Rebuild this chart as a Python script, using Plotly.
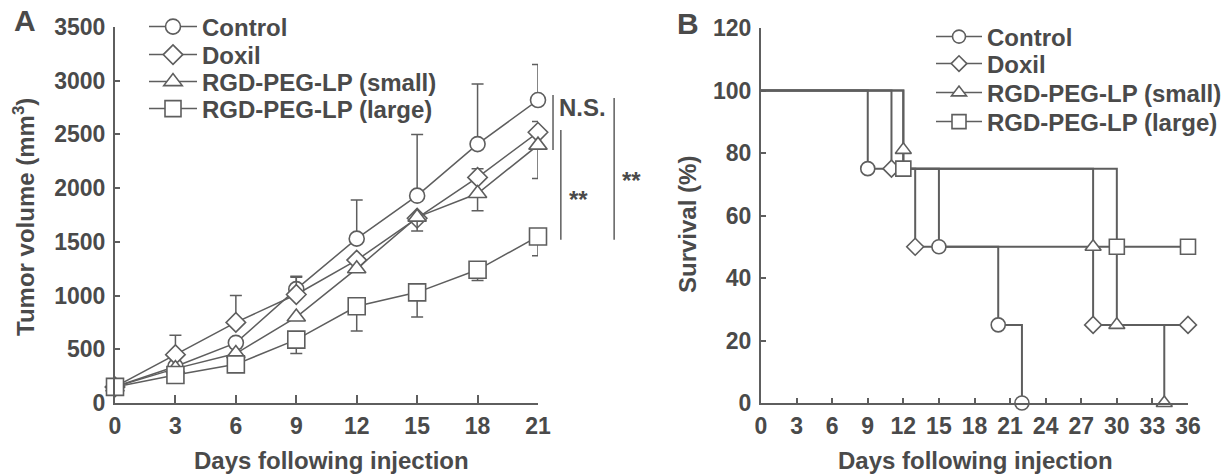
import plotly.graph_objects as go

# ---------------- data: panel A (tumor volume) ----------------
days = [0, 3, 6, 9, 12, 15, 18, 21]
control = [150, 340, 560, 1060, 1530, 1930, 2410, 2820]
control_err = [0, 0, 0, 120, 360, 570, 560, 330]
doxil = [150, 450, 750, 1010, 1330, 1720, 2100, 2520]
doxil_err = [0, 180, 250, 160, 0, 0, 80, 100]
small = [150, 320, 460, 800, 1250, 1730, 1950, 2400]
small_err = [0, 0, 0, 0, 0, 130, 160, 310]
large = [150, 260, 360, 590, 900, 1030, 1240, 1550]
large_err = [0, 0, 0, 130, 230, 230, 100, 180]
zeros = [0] * len(days)

# ---------------- data: panel B (survival) ----------------
ctrl_t = [0, 9, 15, 20, 22]
ctrl_s = [100, 75, 50, 25, 0]
dox_t = [0, 11, 13, 28, 36]
dox_s = [100, 75, 50, 25, 25]
small_t = [0, 12, 28, 30, 34]
small_s = [100, 75, 50, 25, 0]
small_mark_s = [81, 50, 25, 0]      # triangle drawn just above the square at day 12
large_t = [0, 12, 30, 36]
large_s = [100, 75, 50, 50]

names = ["Control", "Doxil", "RGD-PEG-LP (small)", "RGD-PEG-LP (large)"]
symbols = ["circle", "diamond", "triangle-up", "square"]

GRAY = "#5e5e5e"
TXT = "#4a4a4a"
FONT = "Liberation Sans, Arial, sans-serif"
W, H = 1231, 476

fig = go.Figure()

seriesA = [(control, control_err, zeros), (doxil, doxil_err, zeros),
           (small, zeros, small_err), (large, zeros, large_err)]
sizesA = [15, 15, 16, 17]
legA = ["legend", "legend2", "legend3", "legend4"]
for i, (vals, up, down) in enumerate(seriesA):
    fig.add_trace(go.Scatter(
        x=days, y=vals, mode="lines+markers", name=names[i],
        line=dict(color=GRAY, width=1.5),
        marker=dict(symbol=symbols[i], size=sizesA[i], color="white",
                    line=dict(color=GRAY, width=1.6)),
        error_y=dict(type="data", symmetric=False, array=up, arrayminus=down,
                     color=GRAY, thickness=1.5, width=6),
        cliponaxis=False, xaxis="x", yaxis="y", legend=legA[i],
    ))

survB = [(ctrl_t, ctrl_s, ctrl_s[1:]), (dox_t, dox_s, dox_s[1:]),
         (small_t, small_s, small_mark_s), (large_t, large_s, large_s[1:])]
sizesB = [14, 13, 14, 15]
for i, (t, s, ms) in enumerate(survB):
    fig.add_trace(go.Scatter(
        x=t, y=s, mode="lines", line=dict(color=GRAY, width=2, shape="hv"),
        showlegend=False, xaxis="x2", yaxis="y2", cliponaxis=False, hoverinfo="skip",
    ))
for i, (t, s, ms) in enumerate(survB):
    fig.add_trace(go.Scatter(
        x=t[1:], y=ms, mode="markers",
        marker=dict(symbol=symbols[i], size=sizesB[i], color="white",
                    line=dict(color=GRAY, width=1.6)),
        showlegend=False, xaxis="x2", yaxis="y2", cliponaxis=False,
    ))
legB = ["legend5", "legend6", "legend7", "legend8"]
for i in range(4):
    fig.add_trace(go.Scatter(
        x=[None], y=[None], mode="lines+markers", name=names[i],
        line=dict(color=GRAY, width=1.5),
        marker=dict(symbol=symbols[i], size=sizesB[i] - 1, color="white",
                    line=dict(color=GRAY, width=1.6)),
        xaxis="x2", yaxis="y2", legend=legB[i],
    ))

axis_common = dict(showline=True, linecolor=GRAY, linewidth=2, ticks="inside",
                   tickcolor=GRAY, tickwidth=1.5, showgrid=False, zeroline=False,
                   automargin=False,
                   tickfont=dict(family=FONT, size=23, color=TXT, weight="bold"))

legend_font = dict(family=FONT, size=24, color=TXT, weight="bold")
rowsA = [27, 55, 82, 109]
rowsB = [37, 64, 93, 122]
legends = {}
for i, r in enumerate(rowsA):
    legends[legA[i]] = dict(x=144 / W, y=1 - r / H, xanchor="left", yanchor="middle",
                            bgcolor="rgba(0,0,0,0)", itemwidth=48, font=legend_font)
for i, r in enumerate(rowsB):
    legends[legB[i]] = dict(x=931 / W, y=1 - r / H, xanchor="left", yanchor="middle",
                            bgcolor="rgba(0,0,0,0)", itemwidth=46, font=legend_font)

fig.update_layout(
    width=W, height=H, margin=dict(l=0, r=0, t=0, b=0, autoexpand=False),
    paper_bgcolor="white", plot_bgcolor="white",
    font=dict(family=FONT, size=24, color=TXT, weight="bold"),
    xaxis=dict(domain=[115 / W, 538 / W], range=[0, 21], tickvals=days, ticklen=8,
               anchor="y", ticklabelstandoff=1, **axis_common),
    yaxis=dict(domain=[(H - 403) / H, (H - 27) / H], range=[0, 3500], dtick=500,
               ticklen=5, anchor="x", ticklabelstandoff=3, **axis_common),
    xaxis2=dict(domain=[761 / W, 1188 / W], range=[0, 36], dtick=3, ticklen=5,
                anchor="y2", ticklabelstandoff=1, **axis_common),
    yaxis2=dict(domain=[(H - 403) / H, (H - 28) / H], range=[0, 120], dtick=20,
                ticklen=5, anchor="x2", ticklabelstandoff=3, **axis_common),
    showlegend=True,
    **legends,
)

ann_font = dict(family=FONT, size=24, color=TXT, weight="bold")
annotations = [
    dict(text="A", x=25 / W, y=1 - 21 / H, xref="paper", yref="paper",
         font=dict(family=FONT, size=30, color=TXT, weight="bold")),
    dict(text="B", x=688 / W, y=1 - 23 / H, xref="paper", yref="paper",
         font=dict(family=FONT, size=30, color=TXT, weight="bold")),
    dict(text="Days following injection", x=331 / W, y=1 - 460 / H, xref="paper", yref="paper",
         font=ann_font),
    dict(text="Days following injection", x=976 / W, y=1 - 460 / H, xref="paper", yref="paper",
         font=ann_font),
    dict(text="Tumor volume (mm<sup>3</sup>)", x=24 / W, y=1 - 217 / H, xref="paper", yref="paper",
         textangle=-90, font=ann_font),
    dict(text="Survival (%)", x=687 / W, y=1 - 225 / H, xref="paper", yref="paper",
         textangle=-90, font=ann_font),
    dict(text="N.S.", x=1.106, y=0.785, xref="x domain", yref="y domain", font=ann_font),
    dict(text="**", x=1.095, y=0.54, xref="x domain", yref="y domain", font=ann_font),
    dict(text="**", x=1.222, y=0.593, xref="x domain", yref="y domain", font=ann_font),
]
for a in annotations:
    a.setdefault("showarrow", False)
    a.setdefault("xanchor", "center")
    a.setdefault("yanchor", "middle")
fig.update_layout(annotations=annotations)

brackets = [(1.0355, 0.673, 0.819), (1.054, 0.434, 0.726), (1.18, 0.434, 0.811)]
for bx, y0, y1 in brackets:
    fig.add_shape(type="line", xref="x domain", yref="y domain", x0=bx, x1=bx, y0=y0, y1=y1,
                  line=dict(color=GRAY, width=1.5))

fig.write_html("out.html", config={"displayModeBar": False},
               post_script="document.body.style.margin='0';document.body.style.overflow='hidden';")
